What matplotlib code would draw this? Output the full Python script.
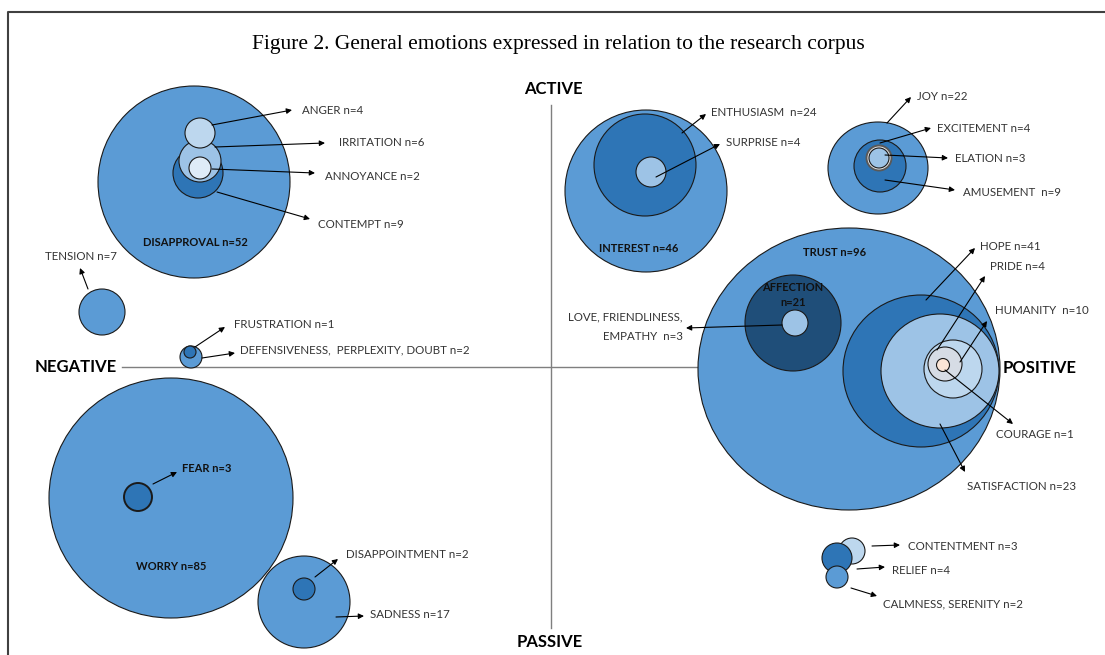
import matplotlib
matplotlib.use('Agg')
import matplotlib.pyplot as plt
from matplotlib.patches import Ellipse

# emotions and their counts (drawn parents first)
names = ['DISAPPROVAL', 'CONTEMPT', 'IRRITATION', 'ANGER', 'ANNOYANCE',
         'TENSION', 'DEFENSIVENESS,  PERPLEXITY, DOUBT', 'FRUSTRATION',
         'WORRY', 'FEAR', 'SADNESS', 'DISAPPOINTMENT',
         'INTEREST', 'ENTHUSIASM ', 'SURPRISE',
         'JOY', 'AMUSEMENT ', 'EXCITEMENT', 'ELATION',
         'TRUST', 'AFFECTION', 'LOVE, FRIENDLINESS,\nEMPATHY ',
         'HOPE', 'SATISFACTION', 'HUMANITY ', 'PRIDE', 'COURAGE',
         'CONTENTMENT', 'RELIEF', 'CALMNESS, SERENITY']
counts = [52, 9, 6, 4, 2,
          7, 2, 1,
          85, 3, 17, 2,
          46, 24, 4,
          22, 9, 4, 3,
          96, 21, 3,
          41, 23, 10, 4, 1,
          3, 4, 2]

# bubble layout in pixel space (x radius, y radius)
bx = [194, 198, 200, 200, 200, 102, 191, 190, 171, 138, 304, 304,
      646, 645, 651, 878, 880, 879, 879, 849, 793, 795,
      921, 940, 953, 945, 943, 852, 837, 837]
by = [182, 173, 161, 133, 168, 312, 357, 352, 498, 497, 602, 589,
      191, 165, 172, 168, 166, 158, 158, 369, 323, 323,
      371, 371, 369, 364, 365, 551, 558, 577]
br = [96, 25, 21, 15, 11, 23, 11, 6, 122, 14, 46, 11,
      81, 51, 15, 50, 26, 12.5, 10, 151, 48, 13,
      78, 59, 29, 17, 6.5, 13, 15, 11]
bry = [96, 25, 21, 15, 11, 23, 11, 6, 120, 14, 46, 11,
       81, 51, 15, 46, 26, 12.5, 10, 141, 48, 13,
       76, 57, 29, 17, 6.5, 13, 15, 11]
MID, DARK, NAVY = '#5b9bd5', '#2e75b6', '#1f4e79'
LIGHT, LIGHTER, PALE = '#9dc3e6', '#bdd7ee', '#deebf7'
bcol = [MID, DARK, LIGHT, LIGHTER, PALE, MID, MID, DARK, MID, DARK, MID, DARK,
        MID, DARK, LIGHT, MID, DARK, '#e7e6e6', LIGHT, MID, NAVY, LIGHT,
        DARK, LIGHT, LIGHTER, '#d6dce5', '#fbe5d6', LIGHTER, DARK, MID]

# labels: bold ones sit inside the bubble, others get an arrow
bold_pos = {0: (195, 242), 8: (171, 566), 9: (207, 469), 12: (639, 248),
            19: (835, 253), 20: (793, 295)}
lab_pos = {1: (318, 224), 2: (339, 143), 3: (302, 110), 4: (325, 176),
           5: (45, 257), 6: (240, 350), 7: (234, 325),
           10: (370, 615), 11: (346, 554),
           13: (711, 112), 14: (726, 142),
           15: (917, 96), 16: (963, 193), 17: (937, 128), 18: (955, 158),
           21: (683, 327),
           22: (980, 246), 23: (967, 486), 24: (995, 310), 25: (990, 267),
           26: (996, 434),
           27: (908, 546), 28: (892, 570), 29: (883, 604)}
arrows = {1: ((217, 192), (310, 219)), 2: ((215, 147), (325, 143)),
          3: ((212, 125), (292, 110)), 4: ((212, 169), (315, 173)),
          5: ((88, 289), (80, 268)), 6: ((202, 358), (235, 353)),
          7: ((195, 347), (225, 327)), 9: ((153, 484), (177, 472)),
          10: ((336, 617), (364, 616)), 11: ((315, 577), (338, 559)),
          13: ((682, 133), (706, 114)), 14: ((656, 177), (720, 144)),
          15: ((887, 123), (911, 97)), 16: ((885, 180), (955, 190)),
          17: ((880, 143), (931, 128)), 18: ((885, 155), (948, 158)),
          21: ((782, 325), (686, 328)),
          22: ((926, 300), (975, 248)), 23: ((940, 424), (965, 472)),
          24: ((960, 362), (987, 321)), 25: ((937, 350), (985, 276)),
          26: ((945, 370), (1013, 424)),
          27: ((872, 546), (900, 545)), 28: ((857, 569), (885, 567)),
          29: ((851, 588), (877, 596))}

fig = plt.figure(figsize=(11.05, 6.55), dpi=100)
ax = fig.add_axes([0, 0, 1, 1])
ax.set_xlim(0, 1105)
ax.set_ylim(655, 0)
ax.axis('off')

# frame and title
ax.plot([8, 8, 1105], [655, 12, 12], color='#404040', lw=1.5)
ax.text(558, 45, 'Figure 2. General emotions expressed in relation to the research corpus',
        ha='center', va='center', fontsize=15.5, family='Liberation Serif')

# quadrant axes
ax.plot([551, 551], [105, 628], color='#7f7f7f', lw=1, zorder=0)
ax.plot([122, 700], [367, 367], color='#7f7f7f', lw=1, zorder=0)
axis_font = dict(fontsize=12, fontweight='bold', family='Lato', color='black')
ax.text(553, 89, 'ACTIVE', ha='center', va='center', **axis_font)
ax.text(550, 642, 'PASSIVE', ha='center', va='center', **axis_font)
ax.text(76, 367, 'NEGATIVE', ha='center', va='center', **axis_font)
ax.text(1003, 368, 'POSITIVE', ha='left', va='center', **axis_font)

for i in range(len(names)):
    lw = 1.4 if i in (9, 17) else 0.8
    ec = '#595959' if i == 17 else '#1a1a1a'
    ax.add_patch(Ellipse((bx[i], by[i]), 2 * br[i], 2 * bry[i],
                         facecolor=bcol[i], edgecolor=ec, lw=lw,
                         zorder=1 + i * 0.01))

for i, (x, y) in bold_pos.items():
    sep = '\n' if i == 20 else ' '
    ax.text(x, y, f'{names[i]}{sep}n={counts[i]}', ha='center', va='center',
            fontsize=8, fontweight='bold', family='Lato', color='#111111',
            zorder=3, linespacing=1.5)

for i, (x, y) in lab_pos.items():
    ha = 'right' if i == 21 else 'left'
    ax.text(x, y, f'{names[i]} n={counts[i]}', ha=ha, va='center',
            fontsize=8.3, family='Lato', color='#333333', zorder=3,
            linespacing=2.0)

for i, (start, end) in arrows.items():
    ax.annotate('', xy=end, xytext=start, zorder=4,
                arrowprops=dict(arrowstyle='-|>', color='black', lw=0.8,
                                mutation_scale=8, shrinkA=0, shrinkB=0))

fig.savefig('out.png', dpi=100)
